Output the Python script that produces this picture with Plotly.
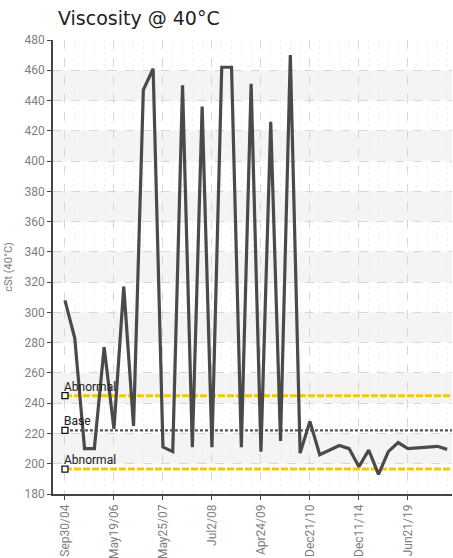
import plotly.graph_objects as go

# ---- data ----
sample_index = list(range(40))
viscosity = [308, 283, 210, 210, 277, 223, 317, 225, 447, 461,
             211, 208, 450, 211, 436, 211, 462, 462, 211, 451,
             208, 426, 215, 470, 207, 228, 206, 209, 212, 210,
             198, 209, 193, 208, 214, 210, 210.5, 210.5, 211.5, 209.5]
tick_positions = [0, 5, 10, 15, 20, 25, 30, 35]
tick_labels = ["Sep30/04", "May19/06", "May25/07", "Jul2/08",
               "Apr24/09", "Dec21/10", "Dec11/14", "Jun21/19"]
limit_names = ["Abnormal", "Base", "Abnormal"]
limit_values = [245, 222, 196.5]
band_starts = [200, 240, 280, 320, 360, 400, 440]

FONT_NARROW = "Roboto, Liberation Sans, sans-serif"

fig = go.Figure()

styles = [("#F5C800", "7px,2px", 3), ("#555555", "3px,2px", 2.2), ("#F5C800", "7px,2px", 3)]
annotations = []
for name, val, (col, dash, w) in zip(limit_names, limit_values, styles):
    fig.add_trace(go.Scatter(
        x=[sample_index[0], sample_index[-1] + 0.6], y=[val, val],
        mode="lines", line=dict(color=col, width=w, dash=dash),
        hoverinfo="skip", showlegend=False))
    fig.add_trace(go.Scatter(
        x=[sample_index[0]], y=[val], mode="markers",
        marker=dict(symbol="square", size=6, color="white",
                    line=dict(width=1.3, color="#111111")),
        showlegend=False, hoverinfo="skip"))
    annotations.append(dict(
        x=sample_index[0], y=val, xref="x", yref="y", text=name,
        showarrow=False, xanchor="left", yanchor="bottom", xshift=-3, yshift=0,
        font=dict(family=FONT_NARROW, size=12, color="#1a1a1a")))

fig.add_trace(go.Scatter(
    x=sample_index, y=viscosity, mode="lines",
    line=dict(color="#4a4a4a", width=3.2), showlegend=False))

shapes = []
for b in band_starts:
    shapes.append(dict(type="rect", xref="paper", yref="y", x0=0, x1=1,
                       y0=b, y1=b + 20, fillcolor="#f4f4f4",
                       line=dict(width=0), layer="below"))

fig.update_layout(
    width=453, height=558,
    margin=dict(l=53, r=1, t=40, b=64),
    paper_bgcolor="white", plot_bgcolor="white",
    shapes=shapes, annotations=annotations,
    title=dict(text="Viscosity @ 40°C", x=58 / 453, xanchor="left",
               y=1 - 18 / 558, yanchor="middle",
               font=dict(family="DejaVu Sans, sans-serif",
                         size=19, color="#222222")),
    xaxis=dict(
        range=[-1.22, 39.5], automargin=False,
        tickmode="array", tickvals=tick_positions, ticktext=tick_labels,
        tickangle=-90,
        tickfont=dict(family=FONT_NARROW, size=12, color="#808080"),
        showline=True, linecolor="#444444", linewidth=1.5,
        ticks="outside", ticklen=4, tickcolor="#444444",
        showgrid=True, gridcolor="#d8d8d8", griddash="dash", gridwidth=1,
        minor=dict(tickvals=[i for i in range(40) if i % 5 != 0],
                   showgrid=True, gridcolor="#f0f0f0", griddash="dot",
                   gridwidth=1),
        zeroline=False, fixedrange=True),
    yaxis=dict(
        range=[180, 480], dtick=20, tick0=180, automargin=False,
        tickfont=dict(family=FONT_NARROW, size=12, color="#808080"),
        title=dict(text="cSt (40°C)", standoff=10,
                   font=dict(family=FONT_NARROW, size=11, color="#808080")),
        showline=True, linecolor="#444444", linewidth=1.5,
        ticks="outside", ticklen=4, tickcolor="#444444",
        showgrid=True, gridcolor="#d8d8d8", griddash="dash", gridwidth=1,
        zeroline=False, fixedrange=True),
)

fig.write_html("out.html", config={"displayModeBar": False},
               post_script="document.body.style.margin='0';")
